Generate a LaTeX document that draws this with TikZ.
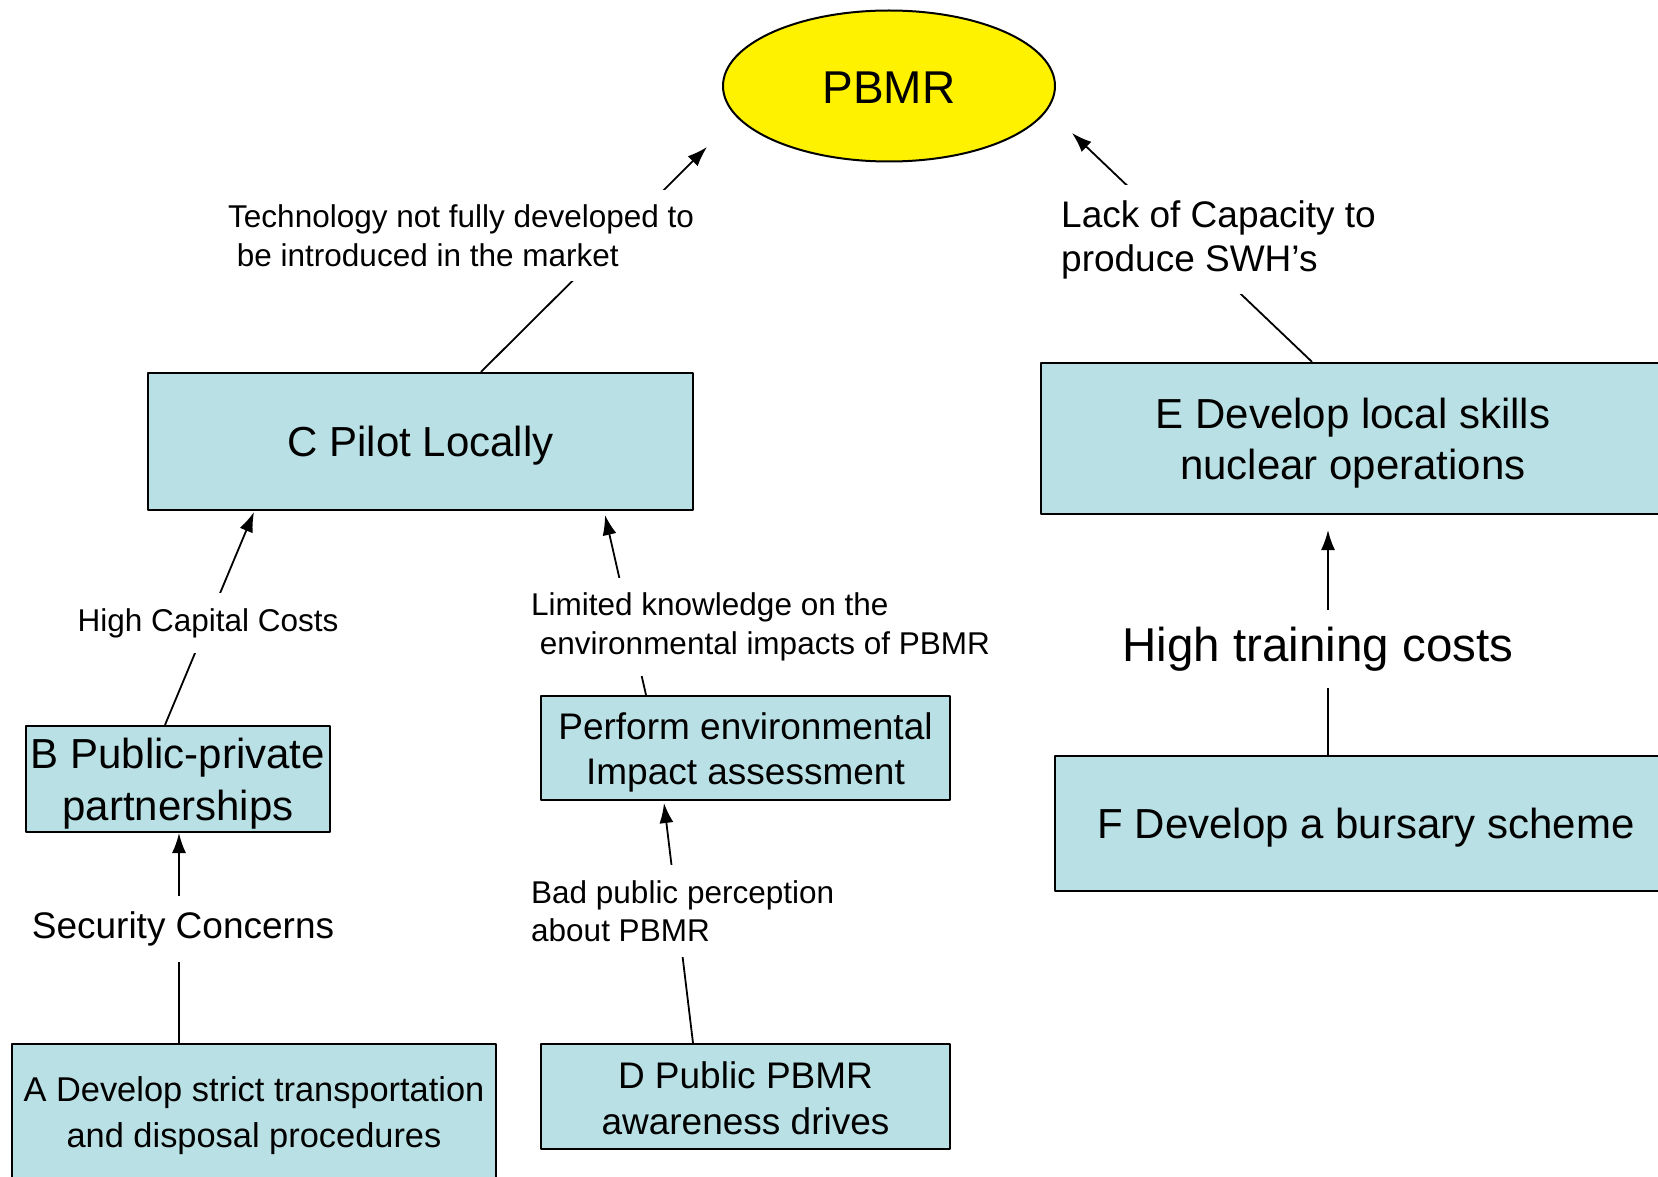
\documentclass[tikz,border=0pt]{standalone}
\usepackage{fontspec}
\setmainfont{Liberation Sans}
\usetikzlibrary{shapes.geometric,arrows.meta}
\definecolor{boxcyan}{RGB}{185,224,228}
\newcommand{\fs}[2]{\fontsize{#1}{#2}\selectfont}
\newcommand{\lift}[1][10.6pt]{\rule{0pt}{\dimexpr\fontcharht\font`l+#1\relax}}
\begin{document}
\begin{tikzpicture}[x=1pt,y=-1pt,line join=round,>={Latex[length=20pt,width=14pt]},
	act/.style={draw,line width=2.2pt,fill=boxcyan,inner sep=0pt,align=center},
	lbl/.style={fill=white,inner xsep=4pt,align=left},
	link/.style={line width=1.8pt}]
	\useasboundingbox (0,0) rectangle (1658,1177);
	% goal
	\node[ellipse,draw,line width=2pt,fill=yellow,minimum width=332pt,minimum height=151pt,inner sep=0pt,font=\fs{46}{55}] (PBMR) at (889,86) {\rule{0pt}{35pt}PBMR};
	% actions
	\node[act,minimum width=545pt,minimum height=137pt,font=\fs{42}{50}] (C) at (420.5,441.5) {\lift C Pilot Locally};
	\node[act,minimum width=624pt,minimum height=151pt,font=\fs{42}{51}] (E) at (1353,438.5) {\lift E Develop local skills\\nuclear operations};
	\node[act,minimum width=622pt,minimum height=135pt,font=\fs{42}{50}] (F) at (1366,823.5) {\lift F Develop a bursary scheme};
	\node[act,minimum width=304pt,minimum height=106pt,font=\fs{42}{52}] (B) at (178,779) {\lift B Public-private\\partnerships};
	\node[act,minimum width=409pt,minimum height=104pt,font=\fs{37}{44.5}] (P) at (745.5,748) {\lift Perform environmental\\Impact assessment};
	\node[act,minimum width=484pt,minimum height=136pt,font=\fs{34.4}{45.5}] (A) at (254,1112) {\lift[8pt]A Develop strict transportation\\and disposal procedures};
	\node[act,minimum width=409pt,minimum height=105pt,font=\fs{37}{46}] (D) at (745.5,1096.5) {\lift[4pt]D Public PBMR\\awareness drives};
	% arrow tips
	\path (707,147) coordinate (tCP) (1072,133) coordinate (tEP)
	(254,512) coordinate (tBC) (605,515) coordinate (tPC)
	(179,833) coordinate (tAB) (664,803) coordinate (tDP)
	(1328,530) coordinate (tFE);
	% links
	\draw[link,->] ([xshift=60.5pt]C.north) -- (tCP);
	\draw[link,->] ([xshift=-41pt]E.north) -- (tEP);
	\draw[link,->] ([xshift=-13pt]B.north) -- (tBC);
	\draw[link,->] ([xshift=-99.5pt]P.north) -- (tPC);
	\draw[link,->] ([xshift=-75pt]A.north) -- (tAB);
	\draw[link,->] ([xshift=-52.5pt]D.north) -- (tDP);
	\draw[link,->] ([xshift=-38pt]F.north) -- (tFE);
	% barriers
	\node[lbl,anchor=west,inner ysep=14pt,font=\fs{31.5}{39}] (tech) at (224,235.5) {Technology not fully developed to\\\hspace*{0.278em}be introduced in the market};
	\node[lbl,anchor=west,inner ysep=15.5pt,font=\fs{37}{44}] (cap) at (1057,239.5) {Lack of Capacity to\\produce SWH’s};
	\node[lbl,inner ysep=15pt,font=\fs{31.5}{39}] (cost) at (208,623) {High Capital Costs};
	\node[lbl,anchor=west,inner ysep=15pt,font=\fs{31.5}{39}] (know) at (527,627) {Limited knowledge on the\\\hspace*{0.278em}environmental impacts of PBMR};
	\node[lbl,inner ysep=15.5pt,font=\fs{37}{44}] (sec) at (183,929) {Security Concerns};
	\node[lbl,anchor=west,inner ysep=15.5pt,font=\fs{31.5}{38}] (perc) at (527,911) {Bad public perception\\about PBMR};
	\node[lbl,inner ysep=17pt,font=\fs{47.5}{56}] (train) at (1318,649) {High training costs};
\end{tikzpicture}
\end{document}
